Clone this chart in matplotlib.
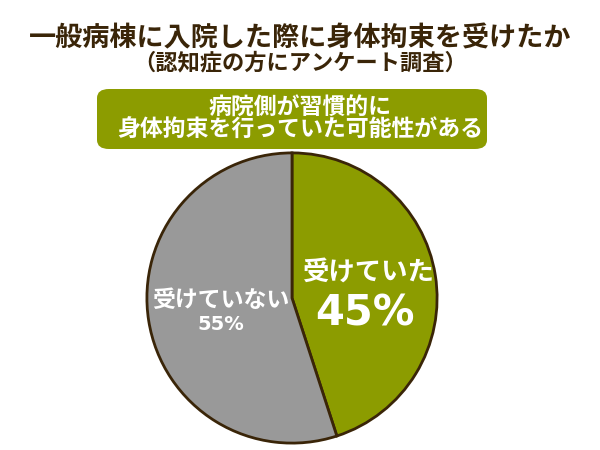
import matplotlib.pyplot as plt
from matplotlib.patches import FancyBboxPatch

plt.rcParams['font.family'] = ['Noto Sans CJK JP', 'DejaVu Sans']

labels = ['受けていた', '受けていない']
values = [45, 55]
colors = ['#8c9c00', '#999999']

fig = plt.figure(figsize=(6, 4.5), dpi=100)
brown = '#3a2508'

fig.text(0.5, 1 - 38/450, '一般病棟に入院した際に身体拘束を受けたか', ha='center', va='center',
         fontsize=19.5, fontweight='bold', color=brown)
fig.text(0.5, 1 - 63/450, '（認知症の方にアンケート調査）', ha='center', va='center',
         fontsize=16, fontweight='bold', color=brown)

box = FancyBboxPatch((97/600, 1 - 149/450), 390/600, 60/450, transform=fig.transFigure,
                     boxstyle='round,pad=0,rounding_size=0.02', fc='#8c9c00', ec='none')
fig.patches.append(box)
fig.text(0.5, 1 - 119/450, '病院側が習慣的に\n身体拘束を行っていた可能性がある', ha='center', va='center',
         fontsize=16.5, fontweight='bold', color='white', linespacing=1.0)

ax = fig.add_axes([(292-148)/600, (152-148)/450, 296/600, 296/450])
ax.pie(values, colors=colors, startangle=90, counterclock=False,
       wedgeprops=dict(edgecolor=brown, linewidth=2))
ax.set_xlim(-1.02, 1.02)
ax.set_ylim(-1.02, 1.02)
ax.set_aspect('equal')
ax.axis('off')

fig.text(369/600, 1 - 272/450, labels[0], ha='center', va='center', fontsize=19,
         fontweight='bold', color='white')
fig.text(365/600, 1 - 313/450, f'{values[0]}%', ha='center', va='center', fontsize=30,
         fontweight='bold', color='white', family='DejaVu Sans')
fig.text(221/600, 1 - 300/450, labels[1], ha='center', va='center', fontsize=16.5,
         fontweight='bold', color='white')
fig.text(221/600, 1 - 324/450, f'{values[1]}%', ha='center', va='center', fontsize=14,
         fontweight='bold', color='white', family='DejaVu Sans')

fig.savefig('out.png', dpi=100)
